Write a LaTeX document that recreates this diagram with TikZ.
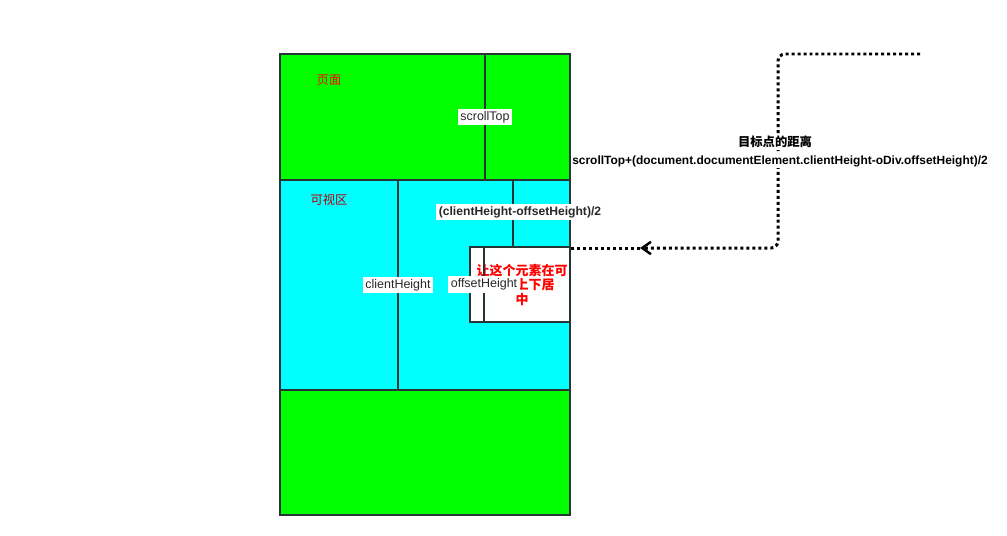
\documentclass[tikz,border=0pt]{standalone}
\usepackage{fontspec}
\setmainfont{Liberation Sans}
\newfontfamily\cjk{Noto Sans CJK SC}
\usetikzlibrary{arrows.meta}
\definecolor{pagegreen}{RGB}{0,255,0}
\definecolor{viewcyan}{RGB}{0,255,255}
\definecolor{edge}{RGB}{38,52,52}
\definecolor{labeltext}{RGB}{40,40,40}
\newcommand{\px}[1]{\fontsize{#1}{#1}\selectfont}

\begin{document}
\begin{tikzpicture}[x=0.02cm,y=-0.02cm,
	wall/.style={draw=edge, line width=1.3pt},
	lbl/.style={fill=white, inner sep=1.5pt, text=labeltext, font=\px{7.1}},
	trail/.style={line width=1.7pt, dash pattern=on 1.7pt off 1.7pt}]
	\useasboundingbox (0,0) rectangle (1007,535);
	
	% page, viewport, page below
	\fill[pagegreen] (280,54) rectangle (570,180);
	\fill[viewcyan] (280,180) rectangle (570,390);
	\fill[pagegreen] (280,390) rectangle (570,515);
	\draw[wall] (280,180) -- (570,180);
	\draw[wall] (280,390) -- (570,390);
	\draw[wall] (280,54) rectangle (570,515);
	
	\node[text=red, font=\cjk\px{7}] (page) at (329,80) {页面};
	\node[text=red!70!black, font=\cjk\px{7}] (view) at (329,200) {可视区};
	
	% element to be centered
	\node[wall, fill=white, minimum width=2cm, minimum height=1.5cm, inner sep=0pt] (div) at (520,284.5) {};
	\node[text=red, align=center, font=\cjk\bfseries\fontsize{7.4}{6.8}\selectfont] (msg) at (522,285) {让这个元素在可\\视区上下居\\中};
	
	\coordinate (st0) at (485,54);
	\coordinate (st1) at (485,180);
	\coordinate (ch0) at (398,180);
	\coordinate (ch1) at (398,390);
	\coordinate (gap0) at (513,180);
	\coordinate (oh0) at (484,247);
	\coordinate (oh1) at (484,322);
	
	\draw[wall] (st0) -- node[lbl] {scrollTop} (st1);
	\draw[wall] (ch0) -- node[lbl] {clientHeight} (ch1);
	\draw[wall] (gap0) -- (gap0 |- div.north);
	\draw[wall] (oh0) -- node[lbl] {offsetHeight} (oh1);
	\node[lbl, font=\bfseries\px{6.9}] (half) at (520,212) {(clientHeight-offsetHeight)/2};
	
	% distance to target
	\coordinate (start) at (920,54);
	\coordinate (tip) at (640,248);
	\draw[trail, -{Straight Barb[length=5pt,width=7pt,line width=1.4pt]}, rounded corners=4pt]
		(start) -- (778,54) -- (778,248) -- (tip);
	\draw[trail] (tip) -- (div.east |- tip);
	\node[fill=white, inner sep=1pt, font=\cjk\bfseries\px{7}] (goal) at (775,142) {目标点的距离};
	\node[fill=white, inner sep=1pt, font=\bfseries\px{6.8}] (formula) at (780,161) {scrollTop+(document.documentElement.clientHeight-oDiv.offsetHeight)/2};
\end{tikzpicture}
\end{document}
